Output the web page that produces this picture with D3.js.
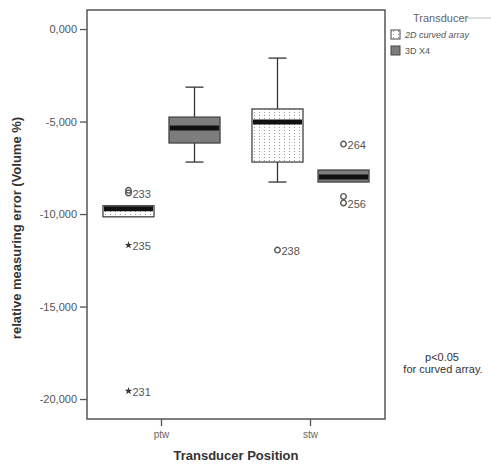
<script src="https://d3js.org/d3.v7.min.js"></script>
<style>
  body { margin: 0; background: #fff; }
  text { font-family: "Liberation Sans", Arial, sans-serif; }
</style>
<div id="graph"></div>
<script>

// Data
var positions = ['ptw', 'stw']
var transducers = ['2D curved array', '3D X4']
var yTicks = [0, -5, -10, -15, -20]

// box stats: [whiskerLow, q1, median, q3, whiskerHigh]
var boxes2D = [[-10.15, -10.15, -9.72, -9.55, -9.55], [-8.27, -7.19, -5.03, -4.32, -1.57]]
var boxes3D = [[-7.19, -6.16, -5.35, -4.76, -3.14], [-8.27, -8.27, -8.0, -7.62, -7.62]]

// outliers: position, transducer, value, label, kind
var outPos = ['ptw', 'ptw', 'ptw', 'ptw', 'stw', 'stw', 'stw', 'stw']
var outSeries = ['2D curved array', '2D curved array', '2D curved array', '2D curved array', '2D curved array', '3D X4', '3D X4', '3D X4']
var outValues = [-8.72, -8.86, -11.68, -19.57, -11.95, -6.22, -9.05, -9.4]
var outLabels = ['', '233', '235', '231', '238', '264', '', '256']
var outKind = ['o', 'o', '*', '*', 'o', 'o', 'o', 'o']

var svg = d3.select('#graph').append('svg')
    .attr('width', 491).attr('height', 464)

// dotted fill for the 2D boxes
var defs = svg.append('defs')
var pat = defs.append('pattern').attr('id', 'dots')
    .attr('patternUnits', 'userSpaceOnUse').attr('width', 5).attr('height', 3)
pat.append('rect').attr('width', 5).attr('height', 3).attr('fill', '#fff')
pat.append('rect').attr('x', 2).attr('y', 1).attr('width', 1).attr('height', 1).attr('fill', '#999')

var plotL = 87, plotR = 385, plotT = 10, plotB = 419

var y = d3.scaleLinear().domain([-21.08, 1.03]).range([plotB, plotT])
var x = d3.scaleBand().domain(positions).range([plotL, plotR])
var xs = d3.scaleBand().domain(transducers).range([0, x.bandwidth()])
    .paddingInner(0.227).paddingOuter(0.242)

var loc = d3.formatLocale({decimal: ',', thousands: '.', grouping: [3], currency: ['', ''], minus: '-'})
var fmt = loc.format('.3f')

// Y axis
var yAxis = svg.append('g')
    .attr('transform', `translate(${plotL},0)`)
    .call(d3.axisLeft(y).tickValues(yTicks).tickFormat(fmt).tickSize(7))
yAxis.selectAll('text').attr('fill', '#555').style('font-size', '11px')
yAxis.selectAll('line').attr('stroke', '#555').attr('stroke-width', 1.3)
yAxis.select('.domain').remove()

// X axis
var xAxis = svg.append('g')
    .attr('transform', `translate(0,${plotB})`)
    .call(d3.axisBottom(x).tickSize(7).tickPadding(5))
xAxis.selectAll('text').attr('fill', '#666').style('font-size', '10px')
xAxis.selectAll('line').attr('stroke', '#555').attr('stroke-width', 1.3)
xAxis.select('.domain').remove()

// frame
svg.append('rect')
    .attr('x', plotL).attr('y', plotT)
    .attr('width', plotR - plotL).attr('height', plotB - plotT)
    .attr('fill', 'none').attr('stroke', '#555').attr('stroke-width', 1.5)

// boxes
var boxData = []
positions.forEach(function(p, i) {
  boxData.push({pos: p, series: transducers[0], s: boxes2D[i]})
  boxData.push({pos: p, series: transducers[1], s: boxes3D[i]})
})

var bw = xs.bandwidth()
var g = svg.append('g').selectAll('g').data(boxData).join('g')
    .attr('transform', function(d) { return `translate(${x(d.pos) + xs(d.series)},0)` })

// whiskers
g.append('line')
    .attr('x1', bw / 2).attr('x2', bw / 2)
    .attr('y1', function(d) { return y(d.s[0]) }).attr('y2', function(d) { return y(d.s[4]) })
    .attr('stroke', '#333').attr('stroke-width', 1.3)
g.filter(function(d) { return d.s[0] < d.s[1] }).append('line')
    .attr('x1', bw / 2 - 9).attr('x2', bw / 2 + 9)
    .attr('y1', function(d) { return y(d.s[0]) }).attr('y2', function(d) { return y(d.s[0]) })
    .attr('stroke', '#333').attr('stroke-width', 1.3)
g.filter(function(d) { return d.s[4] > d.s[3] }).append('line')
    .attr('x1', bw / 2 - 9).attr('x2', bw / 2 + 9)
    .attr('y1', function(d) { return y(d.s[4]) }).attr('y2', function(d) { return y(d.s[4]) })
    .attr('stroke', '#333').attr('stroke-width', 1.3)

g.append('rect')
    .attr('x', 0).attr('width', bw)
    .attr('y', function(d) { return y(d.s[3]) })
    .attr('height', function(d) { return y(d.s[1]) - y(d.s[3]) })
    .attr('fill', function(d) { return d.series == transducers[0] ? 'url(#dots)' : '#7d7d7d' })
    .attr('stroke', '#444').attr('stroke-width', 1.3)

g.append('line')
    .attr('x1', 1).attr('x2', bw - 1)
    .attr('y1', function(d) { return y(d.s[2]) }).attr('y2', function(d) { return y(d.s[2]) })
    .attr('stroke', '#111').attr('stroke-width', 5)

// outliers
var outData = outValues.map(function(v, i) {
  return {pos: outPos[i], series: outSeries[i], v: v, label: outLabels[i], kind: outKind[i]}
})
var og = svg.append('g').selectAll('g').data(outData).join('g')
    .attr('transform', function(d) { return `translate(${x(d.pos) + xs(d.series) + bw / 2},${y(d.v)})` })
og.filter(function(d) { return d.kind == 'o' }).append('circle')
    .attr('r', 2.8).attr('fill', 'none').attr('stroke', '#555').attr('stroke-width', 1.4)
og.filter(function(d) { return d.kind == '*' }).append('path')
    .attr('d', d3.symbol().type(d3.symbolStar).size(18))
    .attr('fill', '#333')
og.append('text')
    .attr('x', 4).attr('y', 5)
    .attr('fill', '#555').style('font-size', '11px')
    .text(function(d) { return d.label })

// axis titles
svg.append('text')
    .attr('x', 236).attr('y', 460)
    .attr('text-anchor', 'middle')
    .attr('font-weight', 'bold').attr('fill', '#333')
    .style('font-size', '13px')
    .text('Transducer Position')

svg.append('text')
    .attr('transform', 'translate(21,228) rotate(-90)')
    .attr('text-anchor', 'middle')
    .attr('font-weight', 'bold').attr('fill', '#333')
    .style('font-size', '13px')
    .text('relative measuring error (Volume %)')

// legend
svg.append('text').attr('x', 413).attr('y', 22)
    .attr('fill', '#666').style('font-size', '11px').text('Transducer')
svg.append('line').attr('x1', 467).attr('x2', 491).attr('y1', 18).attr('y2', 18)
    .attr('stroke', '#bbb')
var leg = svg.append('g').selectAll('g').data(transducers).join('g')
    .attr('transform', function(d, i) { return `translate(391,${30 + i * 16})` })
leg.append('rect').attr('width', 9).attr('height', 9)
    .attr('fill', function(d, i) { return i == 0 ? 'url(#dots)' : '#7d7d7d' })
    .attr('stroke', '#444')
leg.append('text').attr('x', 14).attr('y', 8)
    .attr('fill', '#555').style('font-size', '9px')
    .style('font-style', function(d, i) { return i == 0 ? 'italic' : 'normal' })
    .text(function(d) { return d })

// note
svg.append('text').attr('x', 442).attr('y', 361)
    .attr('text-anchor', 'middle').attr('fill', '#333').style('font-size', '11px')
    .text('p<0.05')
svg.append('text').attr('x', 443).attr('y', 373)
    .attr('text-anchor', 'middle').attr('fill', '#333').style('font-size', '11px')
    .text('for curved array.')

</script>
